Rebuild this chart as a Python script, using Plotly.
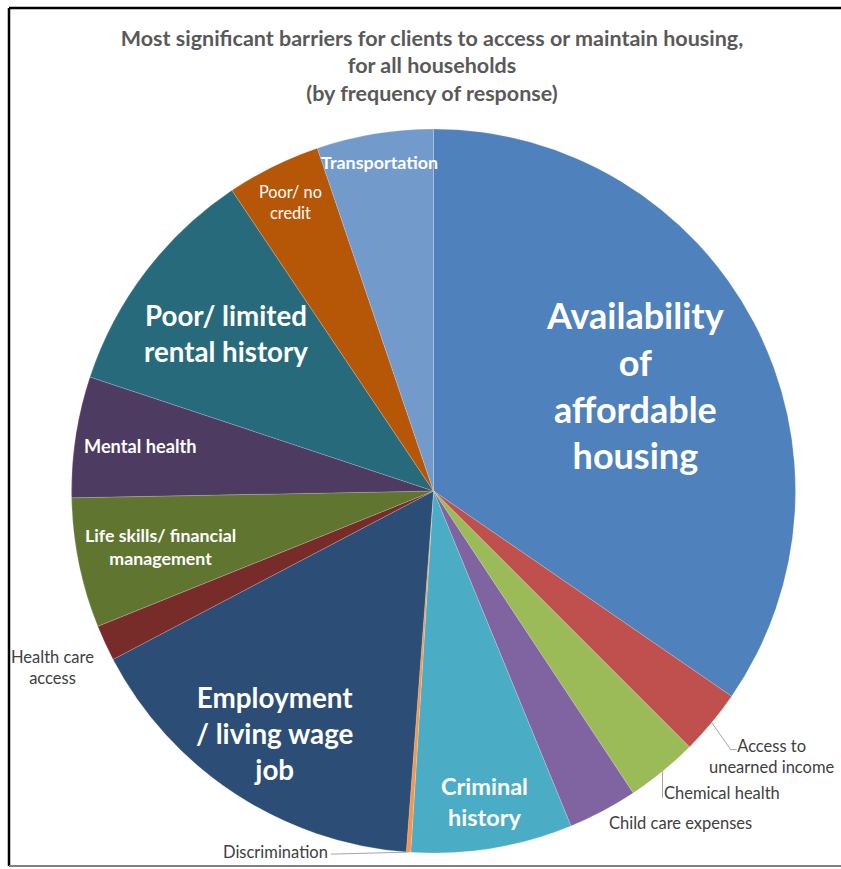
import math
import plotly.graph_objects as go

W, H = 841, 869

# slices in clockwise order from 12 o'clock (share of responses, %)
categories = ["Availability of affordable housing", "Access to unearned income",
              "Chemical health", "Child care expenses", "Criminal history",
              "Discrimination", "Employment / living wage job", "Health care access",
              "Life skills/ financial management", "Mental health",
              "Poor/ limited rental history", "Poor/ no credit", "Transportation"]
shares = [34.6, 2.9, 3.2, 3.1, 7.2, 0.2, 16.1, 1.6, 5.8, 5.4, 10.5, 4.2, 5.2]
label_lines = ["Availability<br>of<br>affordable<br>housing", "Access to<br>unearned income",
               "Chemical health", "Child care expenses", "Criminal<br>history",
               "Discrimination", "Employment<br>/ living wage<br>job", "Health care<br>access",
               "Life skills/ financial<br>management", "Mental health",
               "Poor/ limited<br>rental history", "Poor/ no<br>credit", "Transportation"]

COLORS = ["#4F81BD", "#C0504D", "#9BBB59", "#8064A2", "#4BACC6", "#F79646", "#2C4D75",
          "#772C2A", "#5F7530", "#4D3B62", "#276A7C", "#B65708", "#729ACA"]

# label styling: radius factor, pixel shift, font size, bold, inside(white)
LABEL_STYLE = {
    "Availability of affordable housing": dict(k=0.63, dx=0, dy=0, size=36, bold=True, inside=True),
    "Access to unearned income": dict(k=1.0, dx=60, dy=34, size=16.5, bold=False, inside=False,
                                      leader=[(-41, -7), (-35, -7)]),
    "Chemical health": dict(k=1.0, dx=60, dy=21.5, size=16.5, bold=False, inside=False,
                            leader=[(-60, 5)]),
    "Child care expenses": dict(k=1.0, dx=78, dy=12, size=16.5, bold=False, inside=False),
    "Criminal history": dict(k=0.87, dx=0, dy=0, size=23.5, bold=True, inside=True),
    "Discrimination": dict(k=1.0, dx=-132.6, dy=0, size=16.5, bold=False, inside=False,
                           leader=[(55, 2)]),
    "Employment / living wage job": dict(k=0.80, dx=0, dy=0, size=27.8, bold=True, inside=True),
    "Health care access": dict(k=1.0, dx=-52.6, dy=24.7, size=16.5, bold=False, inside=False),
    "Life skills/ financial management": dict(k=0.77, dx=0, dy=0, size=17.8, bold=True, inside=True),
    "Mental health": dict(k=0.82, dx=0, dy=0, size=18.2, bold=True, inside=True),
    "Poor/ limited rental history": dict(k=0.72, dx=0, dy=0, size=27.7, bold=True, inside=True),
    "Poor/ no credit": dict(k=0.89, dx=0, dy=0, size=16.3, bold=False, inside=True),
    "Transportation": dict(k=0.92, dx=0, dy=0, size=17.9, bold=True, inside=True),
}

# pie geometry in pixels
CX, CY, R = 433.5, 491, 362


def px2paper(x, y):
    return x / W, 1 - y / H


fig = go.Figure(go.Pie(
    labels=categories, values=shares, sort=False, direction="clockwise", rotation=0,
    marker=dict(colors=COLORS, line=dict(color="rgba(255,255,255,0.35)", width=0.5)),
    textinfo="none", hoverinfo="label+percent",
    domain=dict(x=[(CX - R) / W, (CX + R) / W], y=[1 - (CY + R) / H, 1 - (CY - R) / H]),
))

total = sum(shares)
annotations = []
shapes = []
cum = 0
for name, val, txt in zip(categories, shares, label_lines):
    mid = math.radians((cum + val / 2) / total * 360)
    cum += val
    st = LABEL_STYLE[name]
    ex, ey = CX + R * math.sin(mid), CY - R * math.cos(mid)
    lx = CX + st["k"] * R * math.sin(mid) + st["dx"]
    ly = CY - st["k"] * R * math.cos(mid) + st["dy"]
    x, y = px2paper(lx, ly)
    annotations.append(dict(
        x=x, y=y, xref="paper", yref="paper", showarrow=False,
        text=f"<b>{txt}</b>" if st["bold"] else txt,
        font=dict(family="Lato", size=st["size"], color="white" if st["inside"] else "#404040"),
        align="center", xanchor="center", yanchor="middle",
    ))
    if "leader" in st:
        pts = [(ex, ey)] + [(lx + a, ly + b) for a, b in st["leader"]]
        path = "M " + " L ".join(f"{px2paper(a, b)[0]},{px2paper(a, b)[1]}" for a, b in pts)
        shapes.append(dict(type="path", path=path, xref="paper", yref="paper",
                           line=dict(color="#A6A6A6", width=1)))

# chart frame
x0, y0 = px2paper(9, 8)
x1, y1 = px2paper(W, 866)
shapes += [
    dict(type="line", xref="paper", yref="paper", x0=x0, x1=1, y0=y0, y1=y0,
         line=dict(color="black", width=2.5)),
    dict(type="line", xref="paper", yref="paper", x0=x0, x1=x0, y0=y0, y1=y1,
         line=dict(color="black", width=2.5)),
    dict(type="line", xref="paper", yref="paper", x0=x0, x1=1, y0=y1, y1=y1,
         line=dict(color="#7F7F7F", width=2)),
]

fig.update_layout(
    width=W, height=H, margin=dict(l=0, r=0, t=0, b=0),
    paper_bgcolor="white", showlegend=False,
    title=dict(text="<b>Most significant barriers for clients to access or maintain housing,"
                    "<br>for all households<br>(by frequency of response)</b>",
               x=432 / W, xanchor="center", y=1 - 45.5 / H, yanchor="middle", yref="container",
               font=dict(family="Lato", size=21.5, color="#595959")),
    annotations=annotations, shapes=shapes,
)

fig.write_html("out.html", config={"displayModeBar": False},
               post_script="document.body.style.margin = '0';")
